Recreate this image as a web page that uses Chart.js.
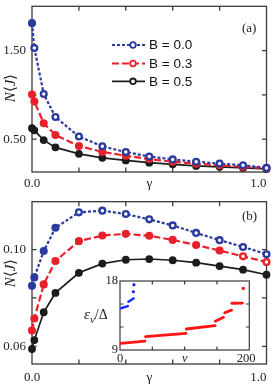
<!DOCTYPE html>
<html><head><meta charset="utf-8">
<script src="https://cdn.jsdelivr.net/npm/chart.js@4/dist/chart.umd.min.js"></script>
<style>
html,body{margin:0;padding:0;background:#fff;width:274px;height:389px;overflow:hidden;position:relative;}
canvas{position:absolute;}
.lbl{position:absolute;font-family:"Liberation Serif","Times New Roman",serif;color:#222;white-space:nowrap;line-height:1;}
.rot{transform:translate(-50%,-50%) rotate(-90deg);font-size:15px;}
</style></head><body>
<canvas id="cTop" width="274" height="195" style="left:0;top:0"></canvas>
<canvas id="cBot" width="274" height="194" style="left:0;top:195px"></canvas>
<canvas id="cIn" width="185" height="96" style="left:75px;top:272px"></canvas>
<div class="lbl rot" style="left:10px;top:88px"><i>N</i>⟨<i>J</i>⟩</div>
<div class="lbl rot" style="left:10px;top:273px"><i>N</i>⟨<i>J</i>⟩</div>
<div class="lbl" style="left:242px;top:21px;font-size:13px">(a)</div>
<div class="lbl" style="left:242px;top:209px;font-size:13px">(b)</div>
<div class="lbl" style="left:84px;top:307px;font-size:14px"><i style="font-size:15px">ε</i><sub style="font-size:11px;font-style:italic">ν</sub>/Δ</div>
<script>
// ---- data ----
const gamma = [0, 0.01, 0.05, 0.1, 0.2, 0.3, 0.4, 0.5, 0.6, 0.7, 0.8, 0.9, 1.0];
const seriesLabels = ['B = 0.0', 'B = 0.3', 'B = 0.5'];
const topB00 = [1.81, 1.53, 1.01, 0.75, 0.53, 0.42, 0.355, 0.305, 0.272, 0.246, 0.225, 0.206, 0.176];
const topB03 = [1.005, 0.925, 0.68, 0.548, 0.423, 0.357, 0.313, 0.276, 0.246, 0.224, 0.206, 0.188, 0.176];
const topB05 = [0.625, 0.6, 0.49, 0.408, 0.335, 0.29, 0.261, 0.235, 0.217, 0.199, 0.188, 0.176, 0.165];
const botB00 = [0.085, 0.0885, 0.0994, 0.109, 0.1154, 0.1161, 0.1147, 0.1125, 0.110, 0.1069, 0.1039, 0.1011, 0.0981];
const botB03 = [0.0665, 0.0715, 0.0856, 0.0953, 0.1035, 0.1058, 0.1065, 0.1057, 0.104, 0.1019, 0.0996, 0.0972, 0.0949];
const botB05 = [0.0589, 0.0626, 0.0741, 0.0821, 0.0904, 0.0942, 0.0958, 0.0961, 0.0956, 0.0946, 0.0932, 0.0917, 0.0896];
const xTickVals = [0, 0.5, 1.0];
const xTickLabels = ['0.0', 'γ', '1.0'];
const xTickMarks = [0.2, 0.4, 0.6, 0.8];
const topYTicks = [0.5, 1.0, 1.5];
const topYLabels = ['0.50', '', '1.50'];
const botYTicks = [0.06, 0.08, 0.10];
const botYLabels = ['0.06', '', '0.10'];
// inset: level index nu vs energy; null separates runs
const insetRedNu = [1.5, 38.5, null, 39.5, 102, null, 102.5, 147, null, 147.5, 160, null, 162, 172.5, null, 173, 189.5, null, 190.7];
const insetRedE  = [9.87, 10.17, null, 10.74, 11.17, null, 11.74, 12.17, null, 12.75, 13.26, null, 13.85, 14.2, null, 15.1, 15.12, null, 17.05];
const insetBlueNu = [1.5, 12, null, 13, 21, null, 20.6, null, 21.6];
const insetBlueE  = [14.45, 14.72, null, 15.3, 15.72, null, 16.6, null, 17.5];
const insetXTicks = [0, 100, 200];
const insetXLabels = ['0', 'ν', '200'];
const insetXMarks = [50, 100, 150];
const insetYTicks = [9, 18];
const insetYLabels = ['9', '18'];
const insetYMarks = [12, 15];

// ---- styles ----
const SERIF = '"Liberation Serif","Times New Roman",serif';
const BLUE = '#2b3a9e', RED = '#e8212b', BLACK = '#1c1c1c';
const FRAME = '#3a3a3a';
const NB = '\u00a0';

const framePlugin = {
  id: 'frame',
  beforeDatasetsDraw(chart, args, o) {
    const {ctx, chartArea: a} = chart;
    const x = chart.scales.x, y = chart.scales.y;
    ctx.save();
    if (o.bg) { ctx.fillStyle = o.bg; ctx.fillRect(a.left, a.top, a.right - a.left, a.bottom - a.top); }
    ctx.strokeStyle = o.color; ctx.lineWidth = o.width;
    ctx.strokeRect(a.left, a.top, a.right - a.left, a.bottom - a.top);
    ctx.beginPath();
    o.xMarks.forEach(v => { const p = x.getPixelForValue(v);
      ctx.moveTo(p, a.top); ctx.lineTo(p, a.top + o.len);
      ctx.moveTo(p, a.bottom); ctx.lineTo(p, a.bottom - o.len); });
    o.yMarks.forEach(v => { const p = y.getPixelForValue(v);
      ctx.moveTo(a.left, p); ctx.lineTo(a.left + o.len, p);
      ctx.moveTo(a.right, p); ctx.lineTo(a.right - o.len, p); });
    ctx.stroke();
    ctx.restore();
  }
};

const keyPlugin = {
  id: 'key',
  afterDatasetsDraw(chart, args, o) {
    if (!o.show) return;
    const ctx = chart.ctx;
    chart.data.datasets.forEach((ds, i) => {
      const yy = o.rows[i];
      ctx.save();
      ctx.strokeStyle = ds.borderColor; ctx.lineWidth = ds.borderWidth;
      ctx.setLineDash(ds.borderDash || []);
      ctx.beginPath(); ctx.moveTo(o.x0, yy); ctx.lineTo(o.x1, yy); ctx.stroke();
      ctx.setLineDash([]);
      ctx.beginPath(); ctx.arc(o.mx, yy, 2.8, 0, Math.PI * 2);
      ctx.fillStyle = '#fff'; ctx.fill(); ctx.lineWidth = 1.8; ctx.stroke();
      ctx.fillStyle = '#111'; ctx.font = o.font; ctx.textBaseline = 'middle';
      ctx.fillText(ds.label, o.tx, yy + 0.5);
      ctx.restore();
    });
  }
};

function pts(xs, ys) { return xs.map((v, i) => ({x: v, y: ys[i]})); }
function fillArr(color, openIdx) { return gamma.map((g, i) => openIdx.includes(i) ? '#fff' : color); }

function mainDatasets(b0, b3, b5, openBlue, openRed) {
  return [
    {label: seriesLabels[0], data: pts(gamma, b0), borderColor: BLUE, borderWidth: 2.2, borderDash: [3, 2],
     pointRadius: 2.9, pointBorderWidth: 2.3, pointBackgroundColor: fillArr(BLUE, openBlue), pointBorderColor: BLUE, clip: false},
    {label: seriesLabels[1], data: pts(gamma, b3), borderColor: RED, borderWidth: 2.2, borderDash: [7, 3],
     pointRadius: 2.9, pointBorderWidth: 2.3, pointBackgroundColor: fillArr(RED, openRed), pointBorderColor: RED, clip: false},
    {label: seriesLabels[2], data: pts(gamma, b5), borderColor: BLACK, borderWidth: 1.7,
     pointRadius: 3.1, pointBorderWidth: 1.6, pointBackgroundColor: BLACK, pointBorderColor: BLACK, clip: false}
  ];
}

function mainOptions(ymin, ymax, yTicks, yLabels, pad, xh, xpad, key) {
  return {
    responsive: false, animation: false,
    layout: {padding: pad},
    plugins: {
      legend: {display: false}, tooltip: {enabled: false},
      frame: {color: FRAME, width: 1.3, len: 4.5, xMarks: xTickMarks, yMarks: yTicks},
      key: key
    },
    elements: {line: {tension: 0}},
    scales: {
      x: {type: 'linear', min: 0, max: 1,
          grid: {display: false, drawTicks: false, tickLength: 0}, border: {display: false},
          afterBuildTicks: s => { s.ticks = xTickVals.map(v => ({value: v})); },
          afterFit: s => { s.height = xh; s.paddingLeft = 0; s.paddingRight = 0; },
          ticks: {autoSkip: false, maxRotation: 0, minRotation: 0, padding: xpad, color: '#222',
                  font: {family: SERIF, size: 13},
                  callback: (v, i) => i === 2 ? xTickLabels[i] + NB + NB + NB + NB + NB : xTickLabels[i]}},
      y: {type: 'linear', min: ymin, max: ymax,
          grid: {display: false, drawTicks: false, tickLength: 0}, border: {display: false},
          afterBuildTicks: s => { s.ticks = yTicks.map(v => ({value: v})); },
          afterFit: s => { s.width = 32; s.paddingTop = 0; s.paddingBottom = 0; },
          ticks: {autoSkip: false, padding: 6, color: '#222', font: {family: SERIF, size: 13},
                  callback: (v, i) => yLabels[i]}}
    }
  };
}

new Chart(document.getElementById('cTop'), {
  type: 'line',
  data: {datasets: mainDatasets(topB00, topB03, topB05, [1,2,3,4,5,6,7,8,9,10,11,12], [10,11,12])},
  options: mainOptions(0.13, 2.0, topYTicks, topYLabels, {left: 0, right: 7.5, top: 2, bottom: 0}, 23, 4,
    {show: true, rows: [45, 63.5, 81.3], x0: 112, x1: 145, mx: 133, tx: 149, font: '13.5px "Liberation Sans", Arial, sans-serif'}),
  plugins: [framePlugin, keyPlugin]
});

new Chart(document.getElementById('cBot'), {
  type: 'line',
  data: {datasets: mainDatasets(botB00, botB03, botB05, [4,5,6,7,8,9,10,11,12], [11,12])},
  options: mainOptions(0.0527, 0.1198, botYTicks, botYLabels, {left: 0, right: 7.5, top: 6.7, bottom: 0}, 25, 6,
    {show: false}),
  plugins: [framePlugin, keyPlugin]
});

function insetData(nu, e) { return nu.map((n, i) => ({x: n === null ? nu[i - 1] : n, y: e[i]})); }
function isolated(e) { return e.map((v, i) => (v !== null && (i === 0 || e[i-1] === null) && (i === e.length - 1 || e[i+1] === null)) ? 1.6 : 0); }

new Chart(document.getElementById('cIn'), {
  type: 'line',
  data: {datasets: [
    {label: 'red levels', data: insetData(insetRedNu, insetRedE), borderColor: '#ff1414', borderWidth: 2.8,
     borderCapStyle: 'round', pointRadius: isolated(insetRedE), pointBackgroundColor: '#ff1414', pointBorderWidth: 0, spanGaps: false},
    {label: 'blue levels', data: insetData(insetBlueNu, insetBlueE), borderColor: '#1a2cf0', borderWidth: 2.5,
     borderCapStyle: 'round', pointRadius: isolated(insetBlueE), pointBackgroundColor: '#1a2cf0', pointBorderWidth: 0, spanGaps: false}
  ]},
  options: {
    responsive: false, animation: false,
    layout: {padding: {left: 0, right: 10.7, top: 9, bottom: 0}},
    plugins: {legend: {display: false}, tooltip: {enabled: false},
      frame: {bg: '#fff', color: FRAME, width: 1.2, len: 3.5, xMarks: insetXMarks, yMarks: insetYMarks},
      key: {show: false}},
    scales: {
      x: {type: 'linear', min: 0, max: 200,
          grid: {display: false, drawTicks: false, tickLength: 0}, border: {display: false},
          afterBuildTicks: s => { s.ticks = insetXTicks.map(v => ({value: v})); },
          afterFit: s => { s.height = 18; s.paddingLeft = 0; s.paddingRight = 0; },
          ticks: {autoSkip: false, maxRotation: 0, padding: 1, color: '#222',
                  font: c => ({family: SERIF, size: 12.5, style: (c.index === 1 ? 'italic' : 'normal')}),
                  callback: (v, i) => i === 2 ? insetXLabels[i] + NB + NB : insetXLabels[i]}},
      y: {type: 'linear', min: 9, max: 18,
          grid: {display: false, drawTicks: false, tickLength: 0}, border: {display: false},
          afterBuildTicks: s => { s.ticks = insetYTicks.map(v => ({value: v})); },
          afterFit: s => { s.width = 45; s.paddingTop = 0; s.paddingBottom = 0; },
          ticks: {autoSkip: false, padding: 2, color: '#222', font: {family: SERIF, size: 12.5},
                  callback: (v, i) => insetYLabels[i]}}
    }
  },
  plugins: [framePlugin, keyPlugin]
});
</script>
</body></html>
